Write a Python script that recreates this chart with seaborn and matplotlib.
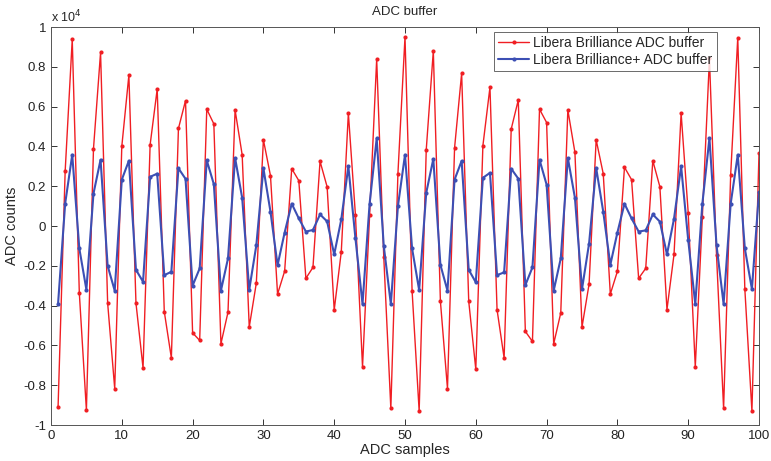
import numpy as np
import pandas as pd
import matplotlib
matplotlib.use("Agg")
import matplotlib.pyplot as plt
import seaborn as sns
from matplotlib.ticker import FuncFormatter, MultipleLocator

samples = list(range(1, 101))
# values in units of 1e4 ADC counts
brilliance = [-0.908, 0.275, 0.938, -0.337, -0.925, 0.388, 0.872, -0.387, -0.817, 0.40,
              0.758, -0.387, -0.713, 0.408, 0.688, -0.43, -0.663, 0.49, 0.63, -0.537,
              -0.575, 0.587, 0.513, -0.592, -0.433, 0.583, 0.358, -0.508, -0.287, 0.433,
              0.253, -0.342, -0.227, 0.288, 0.228, -0.263, -0.208, 0.325, 0.197, -0.422,
              -0.13, 0.567, 0.055, -0.708, 0.053, 0.838, -0.155, -0.917, 0.263, 0.95,
              -0.325, -0.93, 0.383, 0.88, -0.378, -0.817, 0.392, 0.767, -0.378, -0.72,
              0.403, 0.697, -0.42, -0.663, 0.487, 0.633, -0.53, -0.58, 0.587, 0.52,
              -0.592, -0.437, 0.583, 0.37, -0.508, -0.292, 0.433, 0.263, -0.342, -0.228,
              0.295, 0.233, -0.263, -0.213, 0.328, 0.197, -0.42, -0.142, 0.567, 0.067,
              -0.708, 0.047, 0.842, -0.147, -0.917, 0.258, 0.947, -0.317, -0.93, 0.367]
brilliance_plus = [-0.39, 0.113, 0.358, -0.113, -0.32, 0.163, 0.333, -0.2, -0.325, 0.233,
                   0.328, -0.22, -0.28, 0.247, 0.263, -0.247, -0.23, 0.29, 0.237, -0.30,
                   -0.213, 0.33, 0.21, -0.325, -0.163, 0.342, 0.142, -0.32, -0.097, 0.29,
                   0.072, -0.197, -0.033, 0.112, 0.038, -0.028, -0.02, 0.058, 0.023, -0.143,
                   0.033, 0.30, -0.062, -0.392, 0.112, 0.44, -0.10, -0.392, 0.10, 0.358,
                   -0.113, -0.322, 0.167, 0.337, -0.195, -0.325, 0.233, 0.327, -0.22, -0.283,
                   0.242, 0.267, -0.247, -0.233, 0.288, 0.238, -0.297, -0.208, 0.333, 0.208,
                   -0.325, -0.163, 0.342, 0.142, -0.317, -0.088, 0.292, 0.072, -0.195, -0.033,
                   0.112, 0.038, -0.028, -0.022, 0.058, 0.022, -0.143, 0.037, 0.30, -0.07,
                   -0.392, 0.112, 0.442, -0.097, -0.392, 0.112, 0.358, -0.113, -0.317, 0.17]
series_names = ["Libera Brilliance ADC buffer", "Libera Brilliance+ ADC buffer"]
scale = 1e4

df = pd.DataFrame({
    "sample": samples * 2,
    "counts": [v * scale for v in brilliance] + [v * scale for v in brilliance_plus],
    "series": [series_names[0]] * 100 + [series_names[1]] * 100,
})

sns.set_style("ticks")
plt.rcParams["font.family"] = ["Liberation Sans", "DejaVu Sans"]

fig = plt.figure(figsize=(7.71, 4.61), dpi=100)
ax = fig.add_axes([51 / 771, 36 / 461, 708 / 771, 398 / 461])

palette = {series_names[0]: "#f01e23", series_names[1]: "#3c4fb4"}
sns.lineplot(data=df[df.series == series_names[0]], x="sample", y="counts", hue="series",
             palette=palette, marker="o", markersize=3, markeredgewidth=0, linewidth=1.0,
             ax=ax, legend=True)
sns.lineplot(data=df[df.series == series_names[1]], x="sample", y="counts", hue="series",
             palette=palette, marker="o", markersize=3, markeredgewidth=0, linewidth=1.5,
             ax=ax, legend=True)

ax.set_xlim(0, 100)
ax.set_ylim(-1e4, 1e4)
ax.xaxis.set_major_locator(MultipleLocator(10))
ax.yaxis.set_major_locator(MultipleLocator(2000))
ax.yaxis.set_major_formatter(FuncFormatter(lambda v, p: f"{v / scale:g}"))
ax.tick_params(direction="in", top=True, right=True, labelsize=9.5, length=4, width=0.7,
               colors="#333333", labelcolor="#222222")
for s in ax.spines.values():
    s.set_linewidth(0.7)
    s.set_color("#555555")

ax.set_title("ADC buffer", fontsize=9.5, pad=9)
ax.set_xlabel("ADC samples", fontsize=10.5, labelpad=1)
ax.set_ylabel("ADC counts", fontsize=10.5, labelpad=3)
ax.text(0.0, 1.005, r"x 10$^4$", transform=ax.transAxes, fontsize=9, ha="left", va="bottom")

leg = ax.legend(loc="upper right", bbox_to_anchor=(0.94, 0.988), fontsize=10, frameon=True,
                fancybox=False, borderpad=0.3, handlelength=2.2, labelspacing=0.2,
                handletextpad=0.3, borderaxespad=0)
leg.get_frame().set_edgecolor("#444444")
leg.get_frame().set_linewidth(0.7)

fig.savefig("out.png", dpi=100)
